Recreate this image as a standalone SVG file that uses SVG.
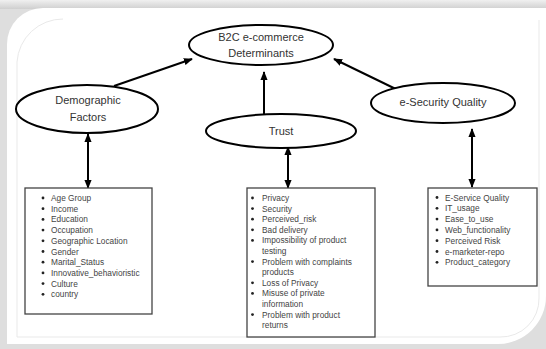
<svg xmlns="http://www.w3.org/2000/svg" width="546" height="349" viewBox="0 0 546 349">
<defs>
<style>
.node ellipse{fill:#fff;stroke:#000;stroke-width:2}
.box{fill:#fff;stroke:#444;stroke-width:1.3}
.title{font-family:"Liberation Sans",Arial,sans-serif;font-size:11px;fill:#333;text-anchor:middle}
.item{font-family:"Liberation Sans",Arial,sans-serif;font-size:8.3px;fill:#444}
.bul{fill:#222}
.conn line{stroke:#000;stroke-width:2}
</style>
<marker id="ah" viewBox="0 0 10 8" refX="9" refY="4" markerWidth="9" markerHeight="8" markerUnits="userSpaceOnUse" orient="auto-start-reverse">
<path d="M0,0 L10,4 L0,8 z" fill="#000"/>
</marker>
<linearGradient id="topg" x1="0" y1="0" x2="0" y2="1">
<stop offset="0" stop-color="#f0f0f0"/><stop offset="1" stop-color="#cfcfcf"/>
</linearGradient>
</defs>
<rect x="0" y="0" width="546" height="349" fill="#dedede"/>
<rect x="0" y="0" width="546" height="9" fill="url(#topg)"/>
<path d="M7 44 A36 36 0 0 1 43 8 H546 V296 A48 48 0 0 1 498 344 H7 Z" fill="#fff"/>
<path d="M63 19 A46 46 0 0 0 17 62 V337 H500 A38 38 0 0 0 539 298 V20" fill="none" stroke="#e9e9e9" stroke-width="1"/>

<g class="conn">
<line x1="114" y1="86" x2="192" y2="59" marker-end="url(#ah)"/>
<line x1="264" y1="115" x2="264" y2="72" marker-end="url(#ah)"/>
<line x1="404" y1="93" x2="334" y2="59" marker-end="url(#ah)"/>
<line x1="88" y1="134" x2="88" y2="188" marker-start="url(#ah)" marker-end="url(#ah)"/>
<line x1="288" y1="147" x2="288" y2="188" marker-start="url(#ah)" marker-end="url(#ah)"/>
<line x1="472" y1="129" x2="472" y2="187" marker-start="url(#ah)" marker-end="url(#ah)"/>
</g>

<g id="b2c" class="node">
<ellipse cx="261" cy="45" rx="72" ry="20"/>
<text class="title" x="261" y="41">B2C e-commerce</text>
<text class="title" x="261" y="57">Determinants</text>
</g>
<g id="demographic" class="node">
<ellipse cx="87" cy="109" rx="71" ry="24"/>
<text class="title" x="88" y="104">Demographic</text>
<text class="title" x="88" y="121">Factors</text>
</g>
<g id="trust" class="node">
<ellipse cx="281" cy="131" rx="75" ry="17"/>
<text class="title" x="281" y="135">Trust</text>
</g>
<g id="esecurity" class="node">
<ellipse cx="443" cy="103" rx="72" ry="20"/>
<text class="title" x="443" y="106">e-Security Quality</text>
</g>

<g id="demographic-list">
<rect class="box" x="25" y="188" width="127" height="126"/>
<g class="bul">
<circle cx="43" cy="198" r="1.4"/><circle cx="43" cy="208.7" r="1.4"/><circle cx="43" cy="219.4" r="1.4"/><circle cx="43" cy="230.1" r="1.4"/><circle cx="43" cy="240.8" r="1.4"/><circle cx="43" cy="251.5" r="1.4"/><circle cx="43" cy="262.2" r="1.4"/><circle cx="43" cy="272.9" r="1.4"/><circle cx="43" cy="283.6" r="1.4"/><circle cx="43" cy="294.3" r="1.4"/>
</g>
<text class="item" x="51" y="201">Age Group</text>
<text class="item" x="51" y="211.7">Income</text>
<text class="item" x="51" y="222.4">Education</text>
<text class="item" x="51" y="233.1">Occupation</text>
<text class="item" x="51" y="243.8">Geographic Location</text>
<text class="item" x="51" y="254.5">Gender</text>
<text class="item" x="51" y="265.2">Marital_Status</text>
<text class="item" x="51" y="275.9">Innovative_behavioristic</text>
<text class="item" x="51" y="286.6">Culture</text>
<text class="item" x="51" y="297.3">country</text>
</g>

<g id="trust-list">
<rect class="box" x="247" y="188" width="128" height="149"/>
<g class="bul">
<circle cx="252.5" cy="198" r="1.4"/><circle cx="252.5" cy="208.6" r="1.4"/><circle cx="252.5" cy="219.2" r="1.4"/><circle cx="252.5" cy="229.8" r="1.4"/><circle cx="252.5" cy="240.4" r="1.4"/><circle cx="252.5" cy="261.6" r="1.4"/><circle cx="252.5" cy="282.8" r="1.4"/><circle cx="252.5" cy="293.4" r="1.4"/><circle cx="252.5" cy="314.6" r="1.4"/>
</g>
<text class="item" x="262" y="201">Privacy</text>
<text class="item" x="262" y="211.6">Security</text>
<text class="item" x="262" y="222.2">Perceived_risk</text>
<text class="item" x="262" y="232.8">Bad delivery</text>
<text class="item" x="262" y="243.4">Impossibility of product</text>
<text class="item" x="262" y="254">testing</text>
<text class="item" x="262" y="264.6">Problem with complaints</text>
<text class="item" x="262" y="275.2">products</text>
<text class="item" x="262" y="285.8">Loss of Privacy</text>
<text class="item" x="262" y="296.4">Misuse of private</text>
<text class="item" x="262" y="307">information</text>
<text class="item" x="262" y="317.6">Problem with product</text>
<text class="item" x="262" y="328.2">returns</text>
</g>

<g id="esecurity-list">
<rect class="box" x="428" y="188" width="109" height="98"/>
<g class="bul">
<circle cx="437" cy="197.5" r="1.4"/><circle cx="437" cy="208.3" r="1.4"/><circle cx="437" cy="219.1" r="1.4"/><circle cx="437" cy="229.9" r="1.4"/><circle cx="437" cy="240.7" r="1.4"/><circle cx="437" cy="251.5" r="1.4"/><circle cx="437" cy="262.3" r="1.4"/>
</g>
<text class="item" x="445" y="200.5">E-Service Quality</text>
<text class="item" x="445" y="211.3">IT_usage</text>
<text class="item" x="445" y="222.1">Ease_to_use</text>
<text class="item" x="445" y="232.9">Web_functionality</text>
<text class="item" x="445" y="243.7">Perceived Risk</text>
<text class="item" x="445" y="254.5">e-marketer-repo</text>
<text class="item" x="445" y="265.3">Product_category</text>
</g>
</svg>
